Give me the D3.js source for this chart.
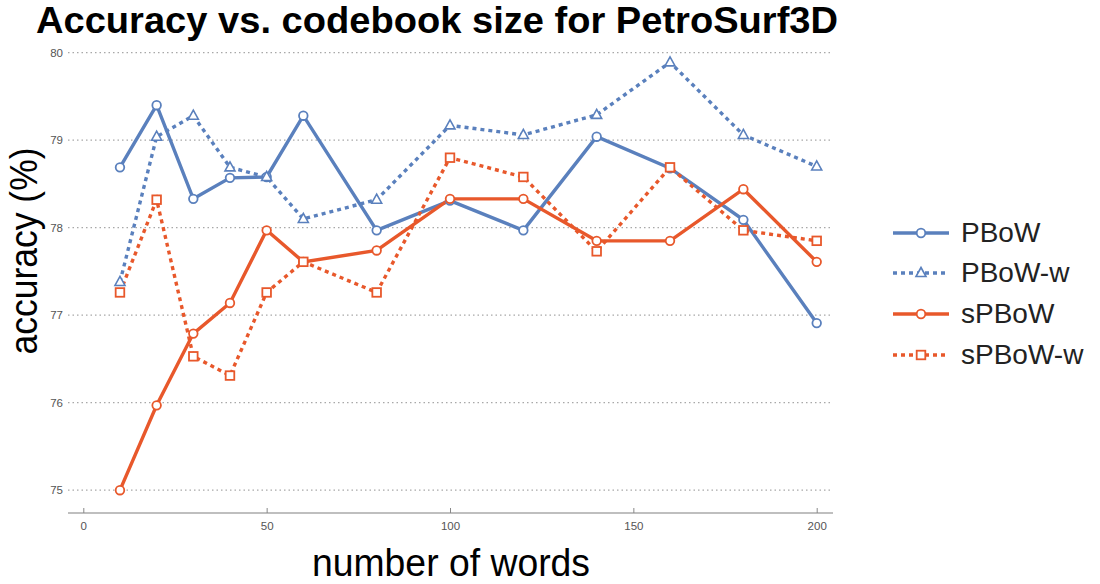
<!DOCTYPE html>
<html>
<head>
<meta charset="utf-8">
<title>Accuracy vs. codebook size</title>
<script src="https://cdn.jsdelivr.net/npm/d3@7/dist/d3.min.js"></script>
<style>
  body { margin: 0; background: #fff; }
  svg { display: block; font-family: "Liberation Sans", Arial, sans-serif; }
</style>
</head>
<body>
<script>
// codebook sizes (number of words)
var words = [10, 20, 30, 40, 50, 60, 80, 100, 120, 140, 160, 180, 200];

// accuracy (%) per series
var pbow   = [78.69, 79.40, 78.33, 78.57, 78.58, 79.28, 77.97, 78.31, 77.97, 79.04, 78.68, 78.09, 76.91];
var pbowW  = [77.38, 79.04, 79.28, 78.69, 78.58, 78.10, 78.32, 79.17, 79.06, 79.29, 79.89, 79.06, 78.70];
var spbow  = [75.00, 75.97, 76.79, 77.14, 77.97, 77.61, 77.74, 78.33, 78.33, 77.85, 77.85, 78.44, 77.61];
var spbowW = [77.26, 78.32, 76.53, 76.31, 77.26, 77.61, 77.26, 78.80, 78.58, 77.73, 78.69, 77.97, 77.85];

var seriesNames = ['PBoW', 'PBoW-w', 'sPBoW', 'sPBoW-w'];
var xTicks = [0, 50, 100, 150, 200];
var yTicks = [75, 76, 77, 78, 79, 80];

var width = 1100, height = 584;
var blue = '#5a80bd', orange = '#e8582b';

var series = [
    { name: seriesNames[0], values: pbow,   color: blue,   dash: null,  marker: 'circle' },
    { name: seriesNames[1], values: pbowW,  color: blue,   dash: '4,4', marker: 'triangle' },
    { name: seriesNames[2], values: spbow,  color: orange, dash: null,  marker: 'circle' },
    { name: seriesNames[3], values: spbowW, color: orange, dash: '4,4', marker: 'square' }
];

var svg = d3.select('body').append('svg')
    .attr('width', width)
    .attr('height', height);

var x = d3.scaleLinear().domain([0, 200]).range([83.3, 816.7]);
var y = d3.scaleLinear().domain([75, 80]).range([490.2, 52.7]);

// title
svg.append('text')
    .attr('x', 36).attr('y', 33)
    .attr('font-size', 36).attr('font-weight', 'bold')
    .attr('textLength', 802).attr('lengthAdjust', 'spacingAndGlyphs')
    .text('Accuracy vs. codebook size for PetroSurf3D');

// horizontal dotted grid + y labels
svg.append('g').selectAll('line')
    .data(yTicks).enter().append('line')
    .attr('x1', 68).attr('x2', 833)
    .attr('y1', function(d) { return y(d); })
    .attr('y2', function(d) { return y(d); })
    .attr('stroke', '#a8a8a8').attr('stroke-width', 1.2)
    .attr('stroke-dasharray', '1.5,3');

svg.append('g').selectAll('text')
    .data(yTicks).enter().append('text')
    .attr('x', 63).attr('y', function(d) { return y(d) + 4; })
    .attr('text-anchor', 'end').attr('font-size', 11.5).attr('fill', '#555')
    .text(function(d) { return d; });

// x axis
var xAxis = d3.axisBottom(x).tickValues(xTicks).tickSizeInner(-5).tickSizeOuter(0).tickPadding(9);
var gx = svg.append('g').attr('transform', 'translate(0,513)').call(xAxis);
gx.select('.domain').attr('d', 'M68,0H833').attr('stroke', '#aaa').attr('stroke-width', 1.5);
gx.selectAll('.tick line').attr('stroke', '#888');
gx.selectAll('.tick text').attr('font-size', 11.5).attr('fill', '#555')
    .attr('font-family', '"Liberation Sans", Arial, sans-serif');

// axis titles
svg.append('text')
    .attr('x', 451).attr('y', 576)
    .attr('text-anchor', 'middle').attr('font-size', 38)
    .attr('textLength', 278).attr('lengthAdjust', 'spacingAndGlyphs')
    .text('number of words');

svg.append('text')
    .attr('transform', 'translate(37,251) rotate(-90)')
    .attr('text-anchor', 'middle').attr('font-size', 38)
    .attr('textLength', 207).attr('lengthAdjust', 'spacingAndGlyphs')
    .text('accuracy (%)');

var line = d3.line()
    .x(function(d, i) { return x(words[i]); })
    .y(function(d) { return y(d); });

function drawMarker(g, type, cx, cy, color) {
    if (type === 'circle') {
        g.append('circle').attr('cx', cx).attr('cy', cy).attr('r', 4.3)
            .attr('fill', '#fff').attr('stroke', color).attr('stroke-width', 1.8);
    } else if (type === 'triangle') {
        g.append('path')
            .attr('d', 'M' + cx + ',' + (cy - 5.5) + 'L' + (cx + 5) + ',' + (cy + 3.5) + 'L' + (cx - 5) + ',' + (cy + 3.5) + 'Z')
            .attr('fill', '#fff').attr('stroke', color).attr('stroke-width', 1.6);
    } else {
        g.append('rect').attr('x', cx - 4.3).attr('y', cy - 4.3).attr('width', 8.6).attr('height', 8.6)
            .attr('fill', '#fff').attr('stroke', color).attr('stroke-width', 1.8);
    }
}

// lines and markers
series.forEach(function(s) {
    svg.append('path')
        .datum(s.values)
        .attr('d', line)
        .attr('fill', 'none')
        .attr('stroke', s.color)
        .attr('stroke-width', 3.4)
        .attr('stroke-dasharray', s.dash);
});
series.forEach(function(s) {
    var g = svg.append('g');
    s.values.forEach(function(v, i) {
        drawMarker(g, s.marker, x(words[i]), y(v), s.color);
    });
});

// legend
var legendY = [233, 273, 314, 355];
series.forEach(function(s, i) {
    var g = svg.append('g');
    g.append('line')
        .attr('x1', 893).attr('x2', 949)
        .attr('y1', legendY[i]).attr('y2', legendY[i])
        .attr('stroke', s.color).attr('stroke-width', 3.4)
        .attr('stroke-dasharray', s.dash);
    drawMarker(g, s.marker, 921, legendY[i], s.color);
    g.append('text')
        .attr('x', 961).attr('y', legendY[i] + 9)
        .attr('font-size', 28).attr('fill', '#222')
        .text(s.name);
});
</script>
</body>
</html>
